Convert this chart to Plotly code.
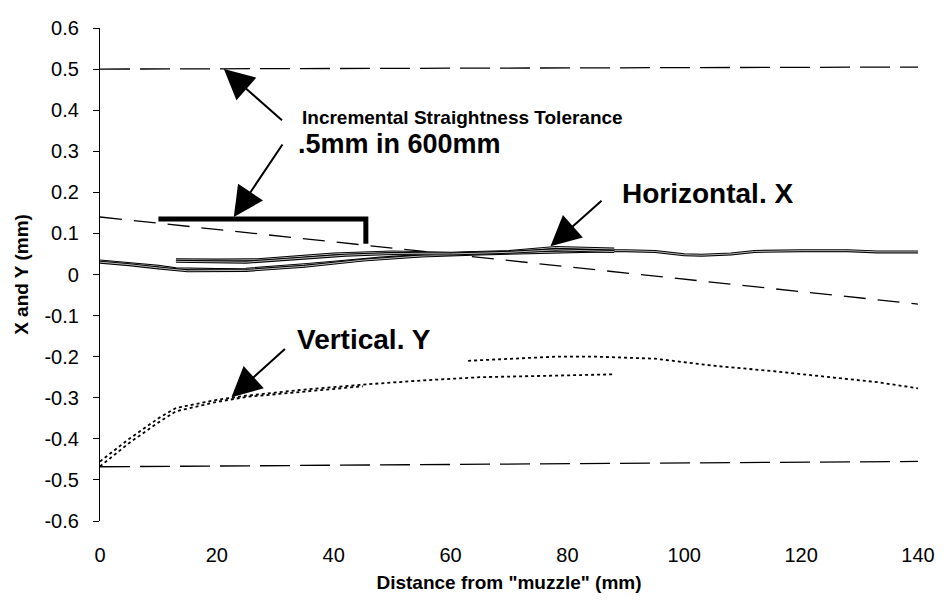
import plotly.graph_objects as go

# Colours / fonts
COLORS = {
    'ink': '#000000',
    'fill': '#BBBBBB',
    'background': '#FFFFFF',
}
FONT = 'Liberation Sans, Arial, sans-serif'

# ---- data ----
# horizontal (X) straightness traces
hx_a = [0, 5, 10, 13, 20, 25, 30, 35, 40, 48, 55, 62, 70, 77, 85, 90, 95, 100, 103, 108, 112, 120, 128, 133, 140]
hy_a = [0.033, 0.027, 0.020, 0.014, 0.012, 0.013, 0.018, 0.024, 0.030, 0.040, 0.046, 0.052, 0.054, 0.058, 0.058, 0.058, 0.056, 0.048, 0.047, 0.050, 0.056, 0.058, 0.058, 0.055, 0.055]

hx_b = [0, 5, 10, 15, 25, 35, 45, 55, 65, 77, 88]
hy_b = [0.030, 0.024, 0.016, 0.009, 0.010, 0.020, 0.035, 0.045, 0.050, 0.055, 0.058]

hx_c = [13, 20, 27, 33, 40, 50, 60, 70, 78, 88]
hy_c = [0.036, 0.035, 0.036, 0.043, 0.050, 0.055, 0.052, 0.056, 0.066, 0.062]

hx_d = [13, 25, 33, 42, 50, 60, 70, 78, 88]
hy_d = [0.032, 0.030, 0.038, 0.047, 0.051, 0.050, 0.054, 0.060, 0.056]

# vertical (Y) straightness traces
vx_a = [0, 5, 10, 13, 20, 25, 35, 45, 55, 65, 75, 88]
vy_a = [-0.455, -0.400, -0.350, -0.325, -0.305, -0.295, -0.280, -0.268, -0.258, -0.250, -0.247, -0.243]

vx_b = [0, 5, 10, 13, 20, 25, 35, 45]
vy_b = [-0.467, -0.410, -0.360, -0.333, -0.310, -0.298, -0.285, -0.272]

vx_c = [63, 70, 78, 85, 95, 105, 115, 125, 133, 140]
vy_c = [-0.210, -0.205, -0.200, -0.200, -0.205, -0.222, -0.235, -0.250, -0.262, -0.277]

# tolerance lines
tol_x = [0, 140]
tol_top_y = [0.500, 0.505]
tol_bot_y = [-0.468, -0.455]
tol_slope_y = [0.140, -0.072]

# incremental tolerance bracket
bracket_x = [10, 45.5, 45.5]
bracket_y = [0.135, 0.135, 0.075]

# axis ticks
x_ticks = [0, 20, 40, 60, 80, 100, 120, 140]
y_ticks = [0.6, 0.5, 0.4, 0.3, 0.2, 0.1, 0, -0.1, -0.2, -0.3, -0.4, -0.5, -0.6]
y_tick_text = ['0.6', '0.5', '0.4', '0.3', '0.2', '0.1', '0', '-0.1', '-0.2', '-0.3', '-0.4', '-0.5', '-0.6']


def line(x, y, width=1.5, dash='solid', color=COLORS['ink']):
    return go.Scatter(x=x, y=y, mode='lines', showlegend=False, hoverinfo='skip',
                      line=dict(color=color, width=width, dash=dash))


fig = go.Figure()

# dashed tolerance lines
for ty in (tol_top_y, tol_bot_y):
    fig.add_trace(line(tol_x, ty, width=1.3, dash='30px,10px'))
fig.add_trace(line(tol_x, tol_slope_y, width=1.3, dash='22px,12px'))

# horizontal traces (double-stroke look)
for hx, hy in ((hx_a, hy_a), (hx_b, hy_b), (hx_c, hy_c), (hx_d, hy_d)):
    fig.add_trace(line(hx, hy, width=3))
    fig.add_trace(line(hx, hy, width=1, color=COLORS['fill']))

# vertical traces
for vx, vy in ((vx_a, vy_a), (vx_b, vy_b), (vx_c, vy_c)):
    fig.add_trace(line(vx, vy, width=1.8, dash='3px,3px'))

# bracket
fig.add_trace(line(bracket_x, bracket_y, width=5))


def arrow(tip_x, tip_y, tail_x, tail_y):
    fig.add_annotation(x=tip_x, y=tip_y, ax=tail_x, ay=tail_y, xref='x', yref='y',
                       axref='x', ayref='y', text='', showarrow=True,
                       arrowhead=2, arrowsize=3, arrowwidth=2, arrowcolor=COLORS['ink'])


def label(x, y, text, size):
    fig.add_annotation(x=x, y=y, xref='x', yref='y', text='<b>%s</b>' % text,
                       showarrow=False, xanchor='left', yanchor='middle',
                       font=dict(family=FONT, size=size, color=COLORS['ink']))


arrow(21.2, 0.500, 31.4, 0.372)
arrow(22.9, 0.140, 31.4, 0.320)
arrow(77.1, 0.069, 86.1, 0.183)
arrow(22.5, -0.299, 31.9, -0.178)

label(34.2, 0.382, 'Incremental Straightness Tolerance', 19)
label(33.6, 0.318, '.5mm in 600mm', 27)
label(89.0, 0.197, 'Horizontal. X', 28)
label(33.4, -0.158, 'Vertical. Y', 28)

# the page body adds an 8px margin, so the figure is sized to fit inside it
fig.update_layout(
    width=936, height=590,
    margin=dict(l=92, r=18, t=9, b=77),
    plot_bgcolor=COLORS['background'],
    paper_bgcolor=COLORS['background'],
    font=dict(family=FONT, color=COLORS['ink']),
    showlegend=False,
    xaxis=dict(
        range=[0, 140], tickvals=x_ticks, showgrid=False, zeroline=False,
        showline=False, ticks='', tickfont=dict(size=20), ticklabelstandoff=20,
        title=dict(text='<b>Distance from "muzzle" (mm)</b>', font=dict(size=19), standoff=10),
    ),
    # axis line drawn at y = 0 with tick marks, Excel style
    xaxis2=dict(
        range=[0, 140], tickvals=x_ticks, overlaying='x', anchor='free', position=0.5,
        showgrid=False, zeroline=False, showline=True, linecolor=COLORS['ink'], linewidth=1.3,
        ticks='outside', ticklen=6, tickwidth=1.3, tickcolor=COLORS['ink'], showticklabels=False,
    ),
    yaxis=dict(
        range=[-0.6, 0.6], tickvals=y_ticks, ticktext=y_tick_text, showgrid=False,
        zeroline=False, showline=True, linecolor=COLORS['ink'], linewidth=1.3,
        ticks='outside', ticklen=6, tickwidth=1.3, tickcolor=COLORS['ink'],
        tickfont=dict(size=20), ticklabelstandoff=10, ticklabeloverflow='allow',
        title=dict(text='<b>X and Y (mm)</b>', font=dict(size=19), standoff=10),
    ),
)

fig.write_html("out.html")
